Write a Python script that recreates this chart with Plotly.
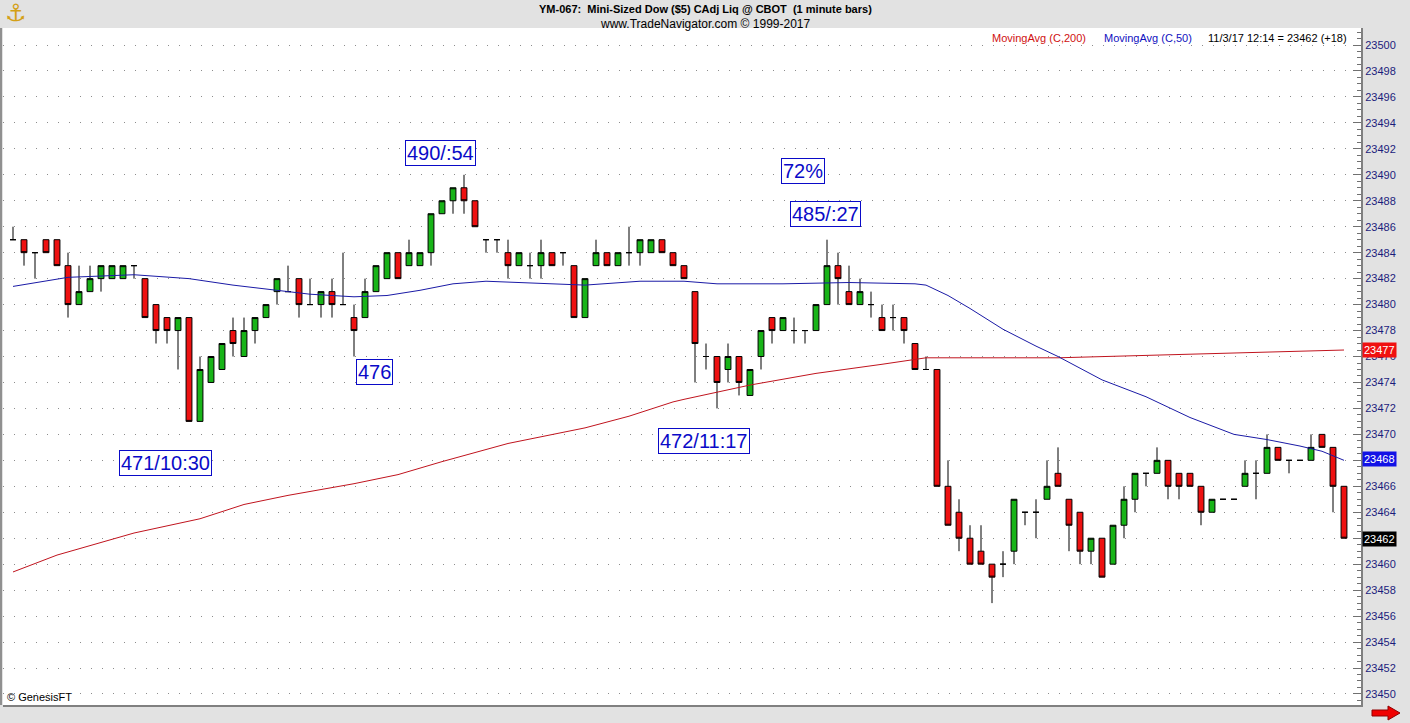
import plotly.graph_objects as go

# ---------------- data ----------------
opens = [23485, 23485, 23484, 23485, 23485, 23483, 23480, 23481, 23482, 23482,
         23482, 23483, 23482, 23480, 23479, 23478, 23479, 23471, 23474, 23475,
         23478, 23476, 23478, 23479, 23481, 23481, 23482, 23480, 23480, 23481,
         23480, 23479, 23479, 23481, 23482, 23484, 23483, 23483, 23484, 23487,
         23488, 23489, 23488, 23485, 23485, 23484, 23483, 23483, 23483, 23484,
         23484, 23483, 23479, 23483, 23484, 23483, 23484, 23484, 23484, 23485,
         23484, 23483, 23481, 23476, 23476, 23475, 23476, 23473, 23476, 23479,
         23478, 23478, 23478, 23478, 23480, 23483, 23481, 23480, 23480, 23479,
         23479, 23479, 23477, 23475, 23475, 23466, 23464, 23462, 23461, 23460,
         23460, 23461, 23464, 23464, 23465, 23467, 23465, 23464, 23461, 23462,
         23460, 23463, 23465, 23467, 23467, 23468, 23467, 23467, 23466, 23464,
         23465, 23465, 23466, 23467, 23467, 23469, 23468, 23468, 23468, 23470,
         23469, 23466]
highs = [23486, 23485, 23484, 23485, 23485, 23484, 23483, 23483, 23483, 23483,
         23483, 23483, 23482, 23480, 23479, 23479, 23479, 23476, 23476, 23477,
         23479, 23479, 23479, 23480, 23482, 23483, 23482, 23482, 23481, 23482,
         23484, 23480, 23482, 23483, 23484, 23484, 23485, 23484, 23487, 23488,
         23489, 23490, 23488, 23485, 23485, 23485, 23484, 23484, 23485, 23484,
         23484, 23483, 23482, 23485, 23484, 23484, 23486, 23485, 23485, 23485,
         23484, 23483, 23481, 23477, 23476, 23477, 23476, 23475, 23478, 23479,
         23479, 23479, 23478, 23480, 23485, 23484, 23483, 23482, 23481, 23480,
         23480, 23479, 23477, 23476, 23475, 23468, 23465, 23463, 23463, 23460,
         23461, 23465, 23464, 23465, 23468, 23469, 23465, 23464, 23462, 23462,
         23463, 23466, 23467, 23467, 23469, 23468, 23467, 23467, 23466, 23465,
         23465, 23465, 23468, 23468, 23470, 23469, 23468, 23468, 23470, 23470,
         23469, 23466]
lows = [23485, 23483, 23482, 23484, 23483, 23479, 23480, 23481, 23481, 23482,
        23482, 23482, 23479, 23477, 23477, 23475, 23471, 23471, 23474, 23475,
        23476, 23476, 23477, 23479, 23480, 23481, 23479, 23480, 23479, 23479,
        23480, 23476, 23479, 23481, 23482, 23482, 23483, 23483, 23483, 23487,
        23487, 23487, 23486, 23484, 23484, 23482, 23483, 23482, 23482, 23483,
        23483, 23479, 23479, 23483, 23483, 23483, 23483, 23483, 23484, 23484,
        23483, 23482, 23474, 23475, 23472, 23474, 23473, 23473, 23475, 23477,
        23478, 23477, 23477, 23478, 23480, 23480, 23480, 23480, 23479, 23478,
        23478, 23477, 23475, 23475, 23466, 23463, 23461, 23460, 23460, 23457,
        23459, 23460, 23463, 23462, 23465, 23466, 23461, 23460, 23460, 23459,
        23460, 23462, 23464, 23466, 23467, 23465, 23465, 23466, 23463, 23464,
        23465, 23465, 23466, 23465, 23467, 23468, 23467, 23468, 23468, 23469,
        23464, 23462]
closes = [23485, 23484, 23484, 23484, 23483, 23480, 23481, 23482, 23483, 23483,
          23483, 23483, 23479, 23478, 23478, 23479, 23471, 23475, 23476, 23477,
          23477, 23478, 23479, 23480, 23482, 23481, 23480, 23480, 23481, 23480,
          23480, 23478, 23481, 23483, 23484, 23482, 23484, 23484, 23487, 23488,
          23489, 23488, 23486, 23485, 23485, 23483, 23484, 23483, 23484, 23483,
          23484, 23479, 23482, 23484, 23483, 23484, 23484, 23485, 23485, 23484,
          23483, 23482, 23477, 23476, 23474, 23476, 23474, 23475, 23478, 23478,
          23479, 23478, 23478, 23480, 23483, 23482, 23480, 23481, 23480, 23478,
          23479, 23478, 23475, 23475, 23466, 23463, 23462, 23460, 23460, 23459,
          23460, 23465, 23464, 23464, 23466, 23466, 23463, 23461, 23462, 23459,
          23463, 23465, 23467, 23467, 23468, 23466, 23466, 23466, 23464, 23465,
          23465, 23465, 23467, 23467, 23469, 23468, 23468, 23468, 23469, 23469,
          23466, 23462]
bar_index = list(range(len(closes)))

# Moving averages, read at selected bar positions
ma50_idx = [0, 5, 11, 16, 20, 24, 27, 31, 34, 37, 40, 43, 46, 52, 57, 61, 64, 70,
            76, 82, 83, 85, 87, 90, 93, 95, 99, 103, 107, 111, 114, 117, 119, 121]
ma50_val = [23481.4, 23482.1, 23482.3, 23482.0, 23481.5, 23481.1, 23480.8, 23480.6,
            23480.7, 23481.1, 23481.6, 23481.8, 23481.7, 23481.5, 23481.8, 23481.8,
            23481.6, 23481.6, 23481.7, 23481.6, 23481.5, 23480.7, 23479.7, 23478.1,
            23476.8, 23476.0, 23474.2, 23472.9, 23471.3, 23470.0, 23469.6, 23469.1,
            23468.7, 23468.0]
ma200_idx = [0, 4, 11, 17, 21, 25, 31, 35, 39, 45, 52, 56, 60, 61, 67, 73, 79, 83,
             95, 107, 121]
ma200_val = [23459.4, 23460.7, 23462.4, 23463.5, 23464.6, 23465.3, 23466.2, 23466.9,
             23467.9, 23469.3, 23470.5, 23471.4, 23472.5, 23472.7, 23473.8, 23474.7,
             23475.4, 23475.9, 23475.9, 23476.2, 23476.5]

ann_texts = ["490/:54", "72%", "485/:27", "476", "471/10:30", "472/11:17"]

y_tick_vals = list(range(23450, 23501, 2))
y_tick_text = [str(v) for v in y_tick_vals]

last_close = closes[-1]
tag_texts = ["23477", "23468", "23462"]

# ---------------- layout helpers ----------------
W, H = 1410, 723
ML, MR, MT, MB = 3, 49, 28, 18
PW, PH = W - ML - MR, H - MT - MB


def px_x(px):
    return (px - ML) / PW


def px_y(py):
    return (H - MB - py) / PH


FONT = "Liberation Sans, Arial, sans-serif"
GREEN = "#18B418"
RED = "#EE1111"
BLUE_TXT = "#0A0AC8"

fig = go.Figure()

fig.add_trace(go.Scatter(x=ma200_idx, y=ma200_val, mode="lines",
                         line=dict(color="#C0141E", width=1), hoverinfo="skip",
                         showlegend=False))
fig.add_trace(go.Scatter(x=ma50_idx, y=ma50_val, mode="lines",
                         line=dict(color="#1A1AA6", width=1), hoverinfo="skip",
                         showlegend=False))

fig.add_trace(go.Candlestick(
    x=bar_index, open=opens, high=highs, low=lows, close=closes,
    increasing=dict(line=dict(color="black", width=1), fillcolor=GREEN),
    decreasing=dict(line=dict(color="black", width=1), fillcolor=RED),
    whiskerwidth=0, showlegend=False, hoverinfo="skip"))

annotations = []
# boxed notes (positions in data coordinates)
note_pos = [(38.9, 23491.7), (71.8, 23490.3), (73.9, 23487.0),
            (32.9, 23474.8), (13.9, 23467.8), (62.8, 23469.5)]
for t, (ax_, ay_) in zip(ann_texts, note_pos):
    annotations.append(dict(x=ax_, y=ay_, xref="x", yref="y", text=t, showarrow=False,
                            font=dict(family=FONT, size=20, color=BLUE_TXT),
                            bgcolor="white", bordercolor=BLUE_TXT, borderwidth=1,
                            borderpad=1, xanchor="center", yanchor="middle"))

# price tags on the right axis
tag_y = [23476.5, 23468.1, last_close - 0.05]
tag_bg = ["#F01010", "#1212E6", "#000000"]
for t, yy, bg in zip(tag_texts, tag_y, tag_bg):
    annotations.append(dict(x=1.0, y=yy, xref="paper", yref="y", text=t, showarrow=False,
                            font=dict(family=FONT, size=11, color="white"),
                            bgcolor=bg, borderpad=1, xanchor="left", yanchor="middle",
                            xshift=1))

# header texts
annotations.append(dict(x=px_x(705), y=px_y(9), xref="paper", yref="paper",
                        text="<b>YM-067:  Mini-Sized Dow ($5) CAdj Liq @ CBOT  (1 minute bars)</b>",
                        showarrow=False, font=dict(family=FONT, size=11, color="black"),
                        xanchor="center", yanchor="middle"))
annotations.append(dict(x=px_x(705), y=px_y(24), xref="paper", yref="paper",
                        text="www.TradeNavigator.com © 1999-2017",
                        showarrow=False, font=dict(family=FONT, size=12, color="black"),
                        xanchor="center", yanchor="middle"))
# legend row
legend_items = [("MovingAvg (C,200)", "#D01010", 990),
                ("MovingAvg (C,50)", "#1010C0", 1102),
                ("11/3/17 12:14 = %d (+18)" % last_close, "black", 1206)]
for t, c, px in legend_items:
    annotations.append(dict(x=px_x(px), y=px_y(38), xref="paper", yref="paper", text=t,
                            showarrow=False, font=dict(family=FONT, size=11, color=c),
                            xanchor="left", yanchor="middle"))
annotations.append(dict(x=px_x(5), y=px_y(697), xref="paper", yref="paper",
                        text="© GenesisFT", showarrow=False,
                        font=dict(family=FONT, size=11, color="black"),
                        xanchor="left", yanchor="middle"))
annotations.append(dict(x=px_x(16), y=px_y(13), xref="paper", yref="paper",
                        text="⚓", showarrow=False,
                        font=dict(family="DejaVu Sans", size=24, color="#D4A017"),
                        xanchor="center", yanchor="middle"))

shapes = [
    dict(type="line", xref="paper", yref="paper", x0=px_x(1), x1=px_x(1),
         y0=0, y1=1, line=dict(color="#909090", width=2)),
    dict(type="path", xref="paper", yref="paper", fillcolor="#F00000",
         line=dict(color="#900000", width=1),
         path="M {a},{b} L {c},{b} L {c},{d} L {e},{f} L {c},{g} L {c},{h} L {a},{h} Z".format(
             a=px_x(1372), b=px_y(710), c=px_x(1388), d=px_y(706), e=px_x(1400),
             f=px_y(713), g=px_y(720), h=px_y(716))),
]

fig.update_layout(
    width=W, height=H,
    margin=dict(l=ML, r=MR, t=MT, b=MB, pad=0),
    paper_bgcolor="#E2E2E2", plot_bgcolor="white",
    hovermode=False, showlegend=False,
    annotations=annotations, shapes=shapes,
    boxgap=0.24,
    xaxis=dict(range=[(ML - 13) / 11, (W - MR - 13) / 11], showgrid=False,
               zeroline=False, showticklabels=False, ticks="",
               rangeslider=dict(visible=False), showline=True,
               linecolor="#808080", linewidth=2, fixedrange=True),
    yaxis=dict(range=[23449.15, 23501.31], side="right", tickvals=y_tick_vals,
               ticktext=y_tick_text, ticks="inside", ticklen=8, tickcolor="#707070",
               tickwidth=1, showline=True, linecolor="#808080", linewidth=2,
               tickfont=dict(family=FONT, size=11, color="#1C1C7C"),
               showgrid=True, gridcolor="#8C8C8C", gridwidth=1, griddash="1px,10px",
               zeroline=False, fixedrange=True,
               minor=dict(dtick=0.5, ticks="inside", ticklen=4, tickcolor="#707070",
                          showgrid=False)),
)

fig.write_html("out.html", config={"displayModeBar": False},
               post_script="document.body.style.margin='0';document.body.style.overflow='hidden';")
